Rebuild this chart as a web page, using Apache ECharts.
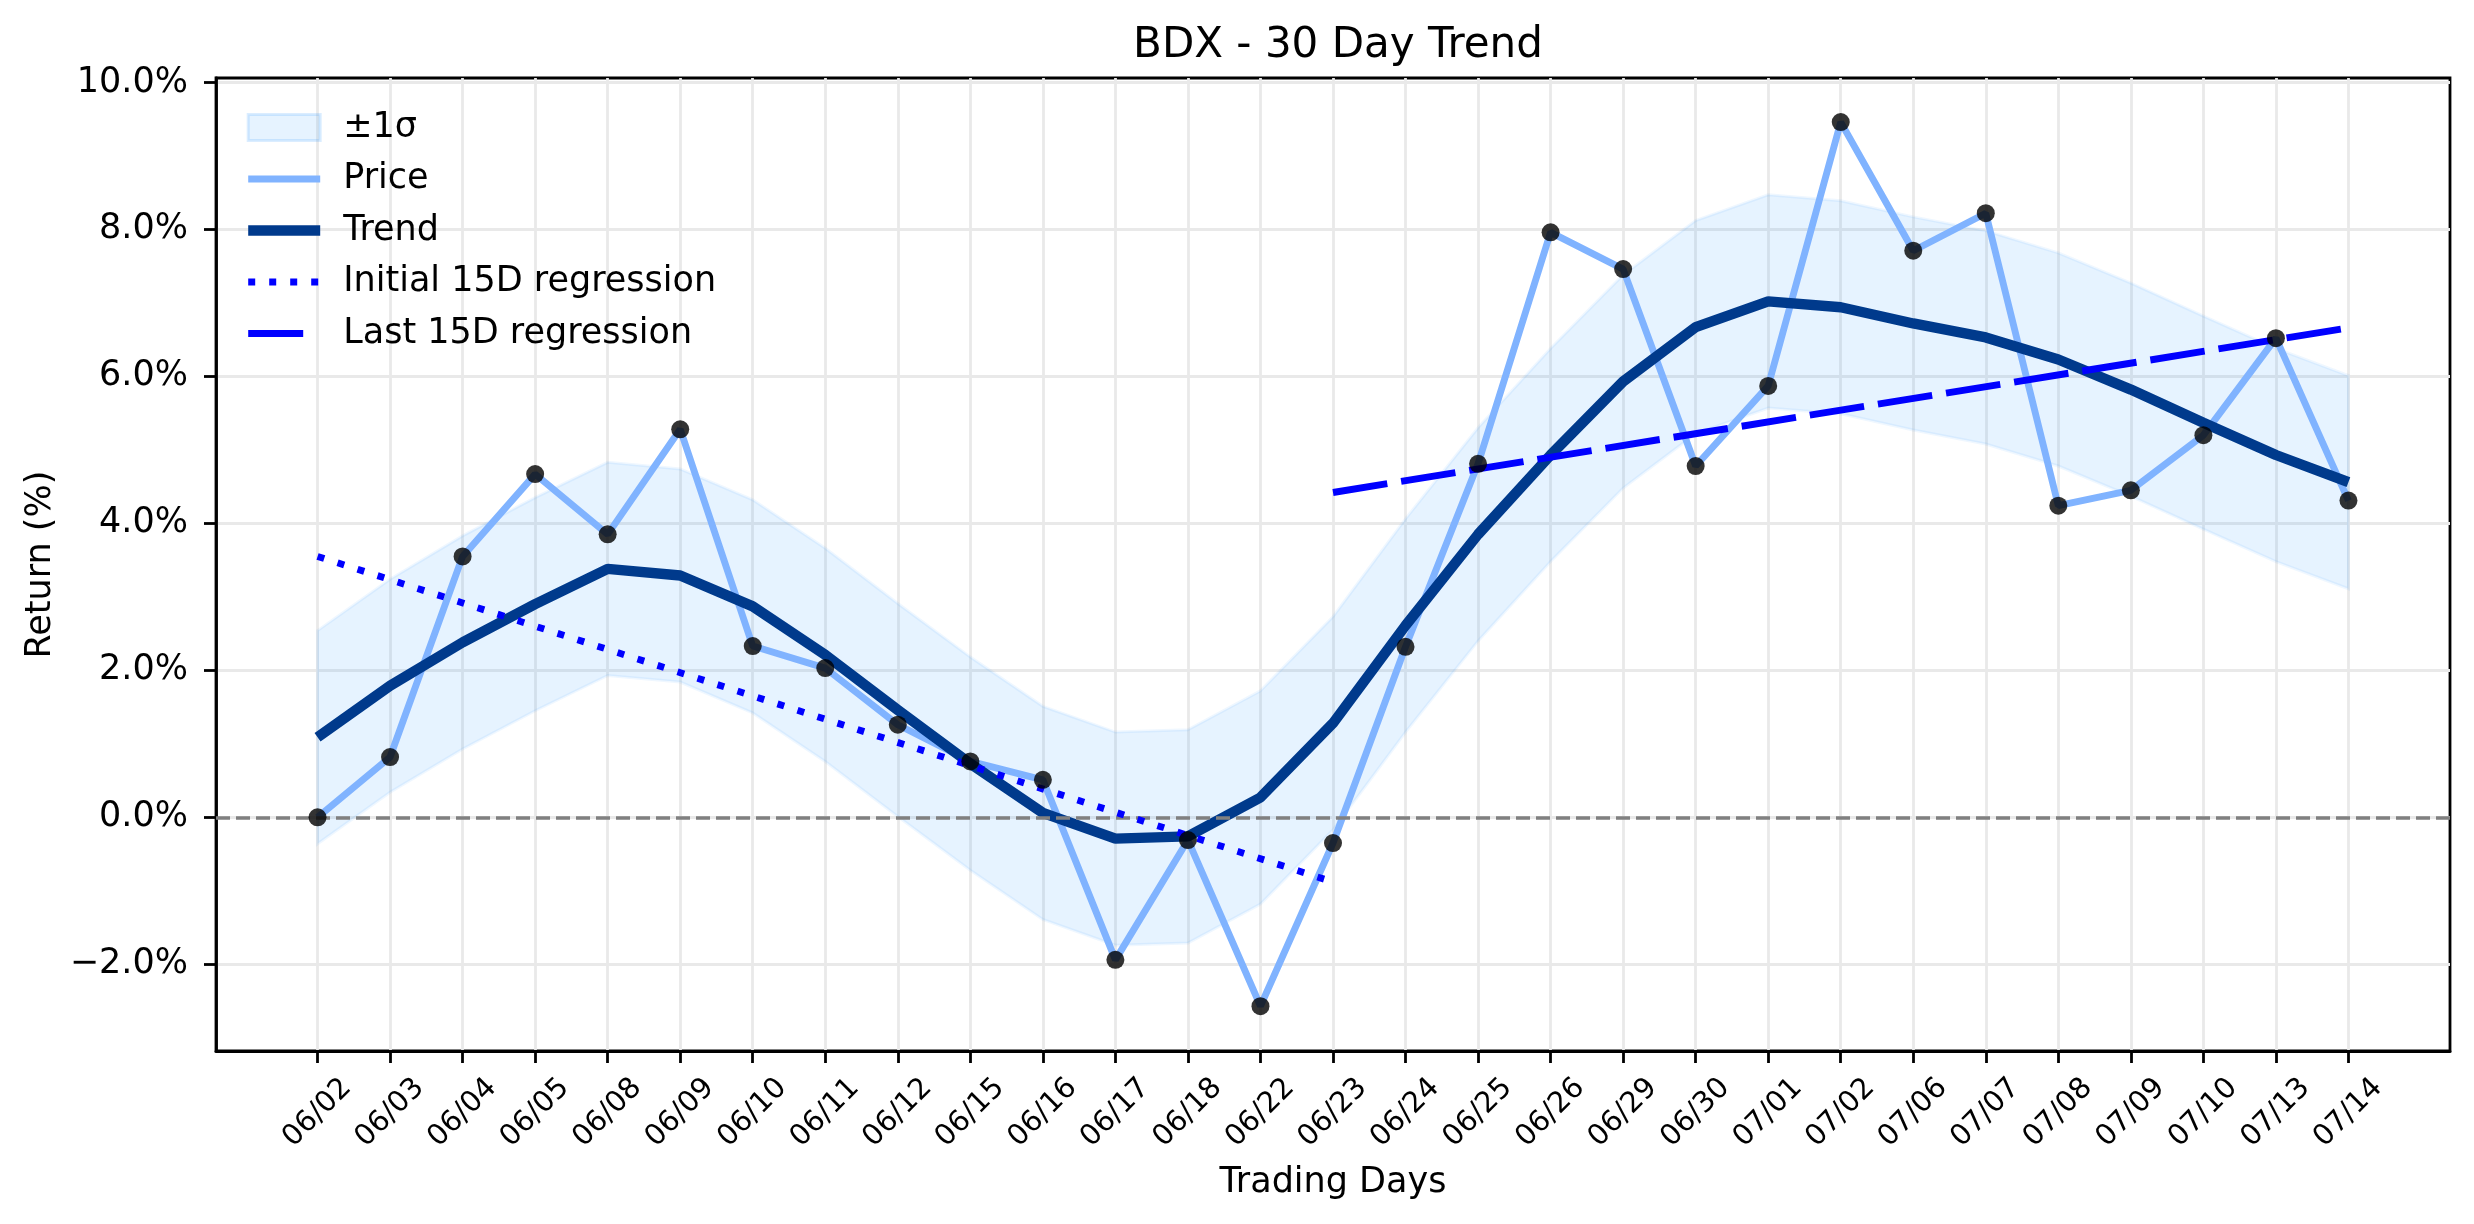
<!DOCTYPE html>
<html>
<head>
<meta charset="utf-8">
<script src="https://cdn.jsdelivr.net/npm/echarts@6/dist/echarts.min.js"></script>
<style>
  html, body { margin: 0; padding: 0; background: #fff; }
  #chart { width: 2474px; height: 1224px; }
</style>
</head>
<body>
<div id="chart"></div>
<script>
var dates = ['06/02','06/03','06/04','06/05','06/08','06/09','06/10','06/11','06/12','06/15',
  '06/16','06/17','06/18','06/22','06/23','06/24','06/25','06/26','06/29','06/30',
  '07/01','07/02','07/06','07/07','07/08','07/09','07/10','07/13','07/14'];
var price = [0.00, 0.82, 3.55, 4.67, 3.85, 5.28, 2.33, 2.03, 1.26, 0.76,
  0.51, -1.94, -0.31, -2.57, -0.35, 2.32, 4.81, 7.96, 7.46, 4.78,
  5.87, 9.46, 7.71, 8.22, 4.24, 4.45, 5.20, 6.52, 4.31];
var trend = [1.09, 1.79, 2.38, 2.90, 3.38, 3.29, 2.87, 2.21, 1.46, 0.73,
  0.06, -0.29, -0.26, 0.27, 1.28, 2.61, 3.85, 4.93, 5.93, 6.67,
  7.02, 6.94, 6.72, 6.53, 6.23, 5.82, 5.37, 4.93, 4.56];
var bandUpper = [2.54, 3.24, 3.83, 4.35, 4.83, 4.74, 4.32, 3.66, 2.91, 2.18,
  1.51, 1.16, 1.19, 1.72, 2.73, 4.06, 5.30, 6.38, 7.38, 8.12,
  8.47, 8.39, 8.17, 7.98, 7.68, 7.27, 6.82, 6.38, 6.01];
var bandLower = [-0.36, 0.34, 0.93, 1.45, 1.93, 1.84, 1.42, 0.76, 0.01, -0.72,
  -1.39, -1.74, -1.71, -1.18, -0.17, 1.16, 2.40, 3.48, 4.48, 5.22,
  5.57, 5.49, 5.27, 5.08, 4.78, 4.37, 3.92, 3.48, 3.11];
// regressions: first and last index, value at each end
var initRegIdx = [0, 14];
var initRegVal = [3.55, -0.88];
var lastRegIdx = [14, 28];
var lastRegVal = [4.42, 6.66];
var yTicks = [-2, 0, 2, 4, 6, 8, 10];

var FONT = 'DejaVu Sans';
var idx = dates.map(function (d, i) { return i; });

function pairs(arr) {
  return arr.map(function (v, i) { return [i, v]; });
}

var chart = echarts.init(document.getElementById('chart'));

var option = {
  animation: false,
  backgroundColor: '#fff',
  textStyle: { fontFamily: FONT, color: '#000' },
  title: {
    text: 'BDX - 30 Day Trend',
    left: 1333, top: 20,
    textAlign: 'center',
    textStyle: { fontFamily: FONT, fontSize: 42, fontWeight: 'normal', color: '#000' }
  },
  grid: {
    left: 216, right: 24, top: 78, bottom: 173,
    show: true, borderColor: '#000', borderWidth: 2.8
  },
  legend: {
    orient: 'vertical',
    left: 243, top: 110,
    padding: 0,
    itemWidth: 72, itemHeight: 26,
    itemGap: 16.5,
    itemStyle: { opacity: 0 },
    textStyle: { fontFamily: FONT, fontSize: 35, color: '#000', lineHeight: 35, padding: [0, 0, 0, 18] },
    data: [
      { name: '±1σ', icon: 'rect', itemStyle: { opacity: 1, color: 'rgba(30,144,255,0.11)', borderColor: 'rgba(30,144,255,0.16)', borderWidth: 3 } },
      { name: 'Price', lineStyle: { color: '#80b3ff', width: 6.9 } },
      { name: 'Trend', lineStyle: { color: '#003a8c', width: 10.4 } },
      { name: 'Initial 15D regression', lineStyle: { color: '#0000ff', width: 6.9, type: [7, 14] } },
      { name: 'Last 15D regression', lineStyle: { color: '#0000ff', width: 6.9, type: [55, 20] } }
    ]
  },
  xAxis: {
    type: 'value',
    min: -1.4, max: 29.4,
    name: 'Trading Days',
    nameLocation: 'middle',
    nameGap: 114,
    nameTextStyle: { fontFamily: FONT, fontSize: 35, color: '#000' },
    axisLine: { onZero: false, lineStyle: { color: '#000', width: 2.8 } },
    axisTick: { show: true, length: 12, lineStyle: { color: '#000', width: 2.8 }, customValues: idx },
    axisLabel: {
      customValues: idx,
      rotate: 45,
      align: 'center', verticalAlign: 'middle',
      margin: 62,
      fontFamily: FONT, fontSize: 29, color: '#000',
      formatter: function (v) { return dates[Math.round(v)]; }
    },
    splitLine: { show: true, lineStyle: { color: '#e9e9e9', width: 2.8 } }
  },
  yAxis: {
    type: 'value',
    min: -3.18, max: 10.06,
    name: 'Return (%)',
    nameLocation: 'middle',
    nameGap: 157,
    nameTextStyle: { fontFamily: FONT, fontSize: 35, color: '#000' },
    axisLine: { show: true, onZero: false, lineStyle: { color: '#000', width: 2.8 } },
    axisTick: { show: true, length: 12, lineStyle: { color: '#000', width: 2.8 }, customValues: yTicks },
    axisLabel: {
      customValues: yTicks,
      margin: 28,
      fontFamily: FONT, fontSize: 35, color: '#000',
      formatter: function (v) {
        var s = Math.abs(v).toFixed(1) + '%';
        return v < 0 ? '\u2212' + s : s;
      }
    },
    splitLine: { show: true, lineStyle: { color: '#e9e9e9', width: 2.8 } }
  },
  series: [
    {
      name: '±1σ',
      type: 'custom',
      z: 1,
      itemStyle: { color: 'rgba(30,144,255,0.11)' },
      data: idx.map(function (i) { return [i, bandLower[i], bandUpper[i]]; }),
      renderItem: function (params, api) {
        if (params.dataIndex !== 0) return;
        var pts = [];
        for (var i = 0; i < bandUpper.length; i++) pts.push(api.coord([i, bandUpper[i]]));
        for (var j = bandLower.length - 1; j >= 0; j--) pts.push(api.coord([j, bandLower[j]]));
        return {
          type: 'polygon',
          shape: { points: pts },
          style: { fill: 'rgba(30,144,255,0.11)', stroke: 'rgba(30,144,255,0.07)', lineWidth: 3 }
        };
      },
      markLine: {
        silent: true,
        symbol: 'none',
        label: { show: false },
        lineStyle: { color: '#808080', width: 3.5, type: [14, 6] },
        data: [{ yAxis: 0 }]
      }
    },
    {
      name: 'Price',
      type: 'line',
      z: 3,
      data: pairs(price),
      symbol: 'none',
      lineStyle: { color: '#80b3ff', width: 6.9 },
      itemStyle: { color: '#80b3ff' }
    },
    {
      name: 'Trend',
      type: 'line',
      z: 4,
      data: pairs(trend),
      symbol: 'none',
      lineStyle: { color: '#003a8c', width: 10.4 },
      itemStyle: { color: '#003a8c' }
    },
    {
      name: 'Initial 15D regression',
      type: 'line',
      z: 5,
      data: [[initRegIdx[0], initRegVal[0]], [initRegIdx[1], initRegVal[1]]],
      symbol: 'none',
      lineStyle: { color: '#0000ff', width: 6.9, type: [7, 14] },
      itemStyle: { color: '#0000ff' }
    },
    {
      name: 'Last 15D regression',
      type: 'line',
      z: 5,
      data: [[lastRegIdx[0], lastRegVal[0]], [lastRegIdx[1], lastRegVal[1]]],
      symbol: 'none',
      lineStyle: { color: '#0000ff', width: 6.9, type: [55, 14] },
      itemStyle: { color: '#0000ff' }
    },
    {
      name: 'points',
      type: 'scatter',
      z: 6,
      data: pairs(price),
      symbol: 'circle',
      symbolSize: 18,
      itemStyle: { color: '#000' }
    }
  ]
};

chart.setOption(option);
</script>
</body>
</html>
